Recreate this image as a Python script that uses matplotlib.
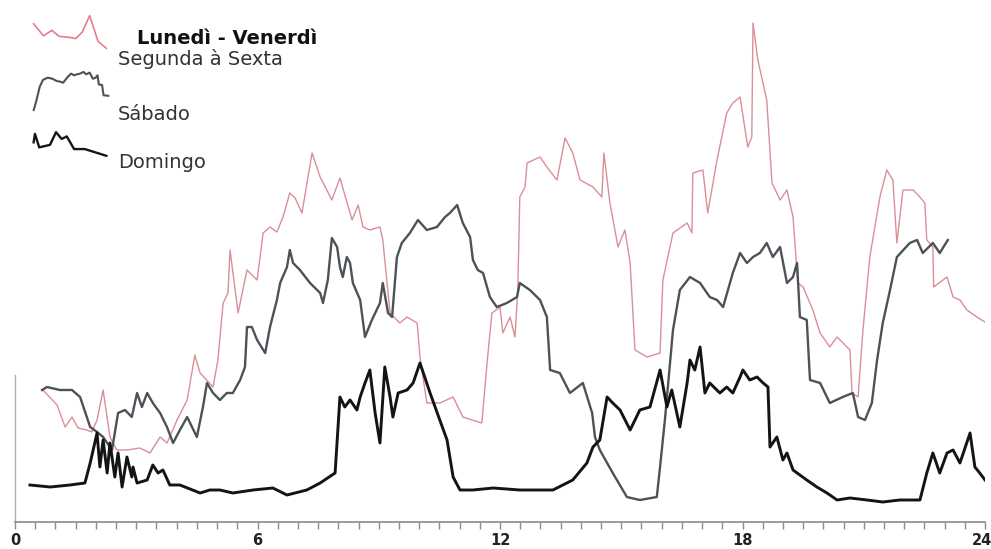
import matplotlib
matplotlib.use("Agg")
import matplotlib.pyplot as plt
from matplotlib.ticker import MultipleLocator, FixedLocator
from matplotlib.transforms import ScaledTranslation

plt.rcParams['font.family'] = ['DejaVu Sans']

# Hour of day and relative traffic level for each day type
weekday_hours = [0.69, 1.04, 1.24, 1.41, 1.56, 1.78, 1.90, 2.03, 2.18, 2.35, 2.52, 2.77, 3.09, 3.34,
                 3.59, 3.76, 4.01, 4.26, 4.45, 4.58, 4.90, 5.02, 5.15, 5.27, 5.32, 5.52, 5.74, 5.99,
                 6.14, 6.31, 6.48, 6.63, 6.75, 6.80, 6.93, 7.10, 7.35, 7.55, 7.84, 8.04, 8.34, 8.49,
                 8.61, 8.78, 9.03, 9.10, 9.28, 9.52, 9.70, 9.95, 10.02, 10.19, 10.51, 10.84, 11.08,
                 11.55, 11.68, 11.80, 12.00, 12.07, 12.25, 12.37, 12.44, 12.49, 12.62, 12.67, 12.99,
                 13.16, 13.41, 13.61, 13.80, 13.98, 14.30, 14.52, 14.57, 14.72, 14.92, 15.09, 15.22,
                 15.34, 15.64, 15.96, 16.03, 16.28, 16.63, 16.75, 16.77, 17.02, 17.14, 17.37, 17.61,
                 17.76, 17.94, 18.13, 18.23, 18.26, 18.38, 18.60, 18.73, 18.93, 19.10, 19.25, 19.37,
                 19.50, 19.74, 19.92, 20.16, 20.34, 20.66, 20.71, 20.86, 20.98, 21.15, 21.40, 21.57,
                 21.72, 21.82, 21.97, 22.22, 22.39, 22.51, 22.56, 22.71, 22.73, 23.06, 23.21, 23.38,
                 23.55, 23.80, 24.00]
weekday_level = [26.4, 23.4, 19.0, 21.0, 18.8, 18.4, 18.0, 20.4, 26.4, 17.0, 14.4, 14.4, 14.8, 13.8,
                 17.0, 15.8, 20.4, 24.4, 33.4, 29.8, 27.0, 32.4, 43.8, 45.8, 54.4, 41.8, 50.4, 48.4,
                 57.8, 59.0, 58.0, 61.0, 64.4, 65.8, 64.8, 61.8, 73.8, 69.0, 64.4, 68.8, 60.4, 63.4,
                 59.0, 58.4, 59.0, 56.4, 41.8, 39.8, 41.0, 39.8, 33.0, 23.8, 23.8, 25.0, 21.0,
                 19.8, 31.8, 41.8, 43.0, 37.8, 41.0, 37.0, 46.4, 65.0, 67.0, 71.8, 73.0,
                 71.0, 68.4, 76.8, 73.8, 68.4, 67.0, 65.0, 73.8, 63.8, 55.0, 58.4, 51.8,
                 34.4, 33.0, 33.8, 48.4, 57.8, 59.8, 57.8, 69.8, 70.4, 61.8, 72.4, 81.8,
                 83.8, 85.0, 75.0, 77.0, 99.8, 92.4, 84.4, 67.8, 64.4, 66.4, 61.0, 47.8,
                 47.0, 42.4, 37.8, 35.0, 37.0, 34.4, 25.8, 25.0, 38.4, 53.0, 65.0, 70.4,
                 68.4, 55.8, 66.4, 66.4, 65.0, 63.8, 56.4, 55.0, 47.0, 49.0, 45.0, 44.4,
                 42.4, 41.0, 40.0]

saturday_hours = [0.67, 0.79, 1.11, 1.41, 1.61, 1.86, 2.03, 2.18, 2.40, 2.55, 2.72, 2.89, 3.02, 3.14,
                  3.27, 3.41, 3.59, 3.76, 3.91, 4.08, 4.26, 4.50, 4.65, 4.75, 4.90, 5.07, 5.24, 5.39,
                  5.57, 5.69, 5.74, 5.86, 5.99, 6.19, 6.31, 6.48, 6.56, 6.73, 6.80, 6.88, 7.05, 7.30,
                  7.55, 7.62, 7.74, 7.84, 7.97, 8.04, 8.11, 8.21, 8.29, 8.36, 8.54, 8.66, 8.83, 9.03,
                  9.10, 9.23, 9.33, 9.45, 9.57, 9.77, 9.97, 10.19, 10.44, 10.64, 10.76, 10.94, 11.08,
                  11.26, 11.33, 11.45, 11.58, 11.75, 11.92, 12.17, 12.42, 12.49, 12.74, 12.99, 13.16,
                  13.24, 13.48, 13.73, 14.05, 14.28, 14.35, 14.47, 14.79, 15.14, 15.46, 15.88, 15.96,
                  16.08, 16.28, 16.45, 16.70, 16.95, 17.19, 17.37, 17.52, 17.76, 17.94, 18.11, 18.26,
                  18.43, 18.60, 18.75, 18.93, 19.10, 19.25, 19.35, 19.42, 19.59, 19.67, 19.92, 20.16,
                  20.48, 20.73, 20.86, 21.03, 21.20, 21.33, 21.47, 21.65, 21.82, 22.14, 22.32, 22.46,
                  22.71, 22.88, 23.08]
saturday_level = [26.4, 27.0, 26.4, 26.4, 25.0, 19.0, 18.0, 17.0, 14.4, 21.8, 22.4, 21.0, 25.8, 23.0,
                  25.8, 23.8, 21.8, 19.0, 15.8, 18.4, 21.0, 17.0, 23.0, 27.8, 25.8, 24.4, 25.8, 25.8,
                  28.4, 31.0, 39.0, 39.0, 36.4, 33.8, 39.0, 44.4, 47.8, 51.0, 54.4, 51.8, 50.4, 47.8,
                  45.8, 43.8, 48.4, 56.8, 55.0, 51.0, 49.0, 53.0, 51.8, 47.8, 44.4, 37.0, 40.4, 43.8,
                  47.8, 41.8, 41.0, 53.0, 55.8, 57.8, 60.4, 58.4, 59.0, 61.0, 61.8, 63.4, 59.8,
                  57.0, 52.4, 50.4, 49.8, 45.0, 43.0, 43.8, 45.0, 47.8, 46.4, 44.4, 41.0,
                  30.4, 29.8, 25.8, 27.8, 21.8, 17.0, 14.4, 9.8, 5.0, 4.4, 5.0, 11.0,
                  20.4, 38.4, 46.4, 49.0, 47.8, 45.0, 44.4, 43.0, 49.8, 53.8, 51.8, 53.0,
                  53.8, 55.8, 53.0, 55.0, 47.8, 49.0, 51.8, 41.0, 40.4, 28.4, 27.8, 23.8,
                  25.0, 25.8, 21.0, 20.4, 23.8, 32.4, 39.8, 46.4, 53.0, 55.8, 56.4, 53.8,
                  55.8, 53.8, 56.4]

sunday_hours = [0.37, 0.87, 1.36, 1.73, 1.86, 2.03, 2.10, 2.18, 2.28, 2.35, 2.47, 2.55, 2.65, 2.77,
                2.89, 2.92, 3.02, 3.27, 3.41, 3.54, 3.66, 3.83, 4.08, 4.58, 4.82, 5.07, 5.39, 5.89,
                6.38, 6.73, 7.22, 7.55, 7.92, 8.04, 8.16, 8.29, 8.46, 8.54, 8.66, 8.78, 8.91, 9.03,
                9.15, 9.28, 9.35, 9.48, 9.70, 9.85, 10.02, 10.27, 10.51, 10.69, 10.84, 11.01, 11.33,
                11.83, 12.49, 13.31, 13.80, 14.15, 14.30, 14.47, 14.65, 14.79, 14.97, 15.22, 15.46,
                15.71, 15.96, 16.13, 16.25, 16.45, 16.63, 16.70, 16.82, 16.95, 17.07, 17.19, 17.44,
                17.61, 17.76, 17.94, 18.01, 18.18, 18.36, 18.51, 18.63, 18.68, 18.85, 19.00, 19.10,
                19.25, 19.59, 19.84, 20.09, 20.34, 20.66, 21.08, 21.47, 21.89, 22.39, 22.56, 22.71,
                22.88, 23.06, 23.21, 23.38, 23.63, 23.75, 23.87, 24.00]
sunday_level = [7.4, 7.0, 7.4, 7.8, 11.8, 17.8, 11.0, 16.4, 9.8, 15.8, 9.0, 13.8, 7.0, 13.0,
                9.0, 11.0, 7.8, 8.4, 11.4, 9.8, 10.4, 7.4, 7.4, 5.8, 6.4, 6.4, 5.8, 6.4,
                6.8, 5.4, 6.4, 7.8, 9.8, 25.0, 23.0, 24.4, 22.4, 25.0, 27.8, 30.4, 21.8, 15.8,
                31.0, 25.0, 21.0, 25.8, 26.4, 27.8, 31.8, 25.8, 20.4, 16.4, 9.0, 6.4, 6.4,
                6.8, 6.4, 6.4, 8.4, 11.8, 15.0, 16.4, 25.0, 23.8, 22.4, 18.4, 22.4,
                23.0, 30.4, 23.0, 26.4, 19.0, 27.8, 32.4, 30.4, 35.0, 25.8, 27.8, 25.8,
                27.0, 25.8, 29.0, 30.4, 28.4, 29.0, 27.8, 27.0, 15.0, 17.0, 12.4, 13.8,
                10.4, 8.4, 7.0, 5.8, 4.4, 4.8, 4.4, 4.0, 4.4, 4.4, 9.8, 13.8,
                9.8, 13.8, 14.4, 11.8, 17.8, 11.0, 9.8, 8.4]

hour_ticks = [0, 6, 12, 18, 24]
hour_labels = ["0", "6", "12", "18", "24"]

legend_titles = ["Lunedì - Venerdì", "Segunda à Sexta", "Sábado", "Domingo"]

weekday_color = "#d98e98"
saturday_color = "#4d5258"
sunday_color = "#141414"

fig = plt.figure(figsize=(9.91, 5.49), dpi=100)
fig.patch.set_facecolor("white")
ax = fig.add_axes([15 / 991, 27 / 549, 970 / 991, 512 / 549])
ax.set_facecolor("white")

ax.plot(weekday_hours, weekday_level, color=weekday_color, lw=1.0, zorder=2)
ax.plot(saturday_hours, saturday_level, color=saturday_color, lw=1.7, zorder=3)
ax.plot(sunday_hours, sunday_level, color=sunday_color, lw=2.1, zorder=4)

ax.set_xlim(0, 24)
ax.set_ylim(0, 102.4)

for side in ("top", "right"):
    ax.spines[side].set_visible(False)
ax.spines["bottom"].set_color("#8a8a8a")
ax.spines["bottom"].set_linewidth(1.2)
ax.spines["left"].set_color("#b0b0b0")
ax.spines["left"].set_linewidth(1.0)
ax.spines["left"].set_bounds(0, 29.5)

ax.xaxis.set_major_locator(FixedLocator(hour_ticks))
ax.set_xticklabels(hour_labels)
ax.xaxis.set_minor_locator(MultipleLocator(0.5))
ax.tick_params(axis="x", which="both", direction="out", length=5, width=1.0,
               color="#8a8a8a", labelsize=10.5, pad=3, labelcolor="#222222")
for lab in ax.get_xticklabels():
    lab.set_fontweight("bold")
# pull the last hour label slightly inward so it stays on the canvas
last = ax.get_xticklabels()[-1]
last.set_transform(last.get_transform() + ScaledTranslation(-3 / 100, 0, fig.dpi_scale_trans))
ax.set_yticks([])

# Legend: short traces cut from each series serve as the key symbols
def key_icon(rect, hours, levels, lo, hi, color, lw):
    kax = fig.add_axes(rect)
    xs = [h for h in hours if lo <= h <= hi]
    ys = [v for h, v in zip(hours, levels) if lo <= h <= hi]
    kax.plot(xs, ys, color=color, lw=lw)
    kax.set_axis_off()
    return kax

key_icon([30 / 991, 1 - 50 / 549, 80 / 991, 36 / 549],
         weekday_hours, weekday_level, 0.9, 2.6, "#e27f8c", 1.2)
key_icon([30 / 991, 1 - 112 / 549, 82 / 991, 42 / 549],
         saturday_hours, saturday_level, 15.9, 20.0, saturday_color, 1.5)
key_icon([30 / 991, 1 - 157 / 549, 80 / 991, 26 / 549],
         sunday_hours, sunday_level, 2.8, 4.7, sunday_color, 1.7)

fig.text(137 / 991, 1 - 38 / 549, legend_titles[0], fontsize=14, fontweight="bold",
         color="#111111", va="center", ha="left")
fig.text(118 / 991, 1 - 59 / 549, legend_titles[1], fontsize=14, color="#333333",
         va="center", ha="left")
fig.text(118 / 991, 1 - 114 / 549, legend_titles[2], fontsize=14, color="#333333",
         va="center", ha="left")
fig.text(118 / 991, 1 - 162 / 549, legend_titles[3], fontsize=14, color="#333333",
         va="center", ha="left")

fig.savefig("out.png", dpi=100, facecolor="white")
